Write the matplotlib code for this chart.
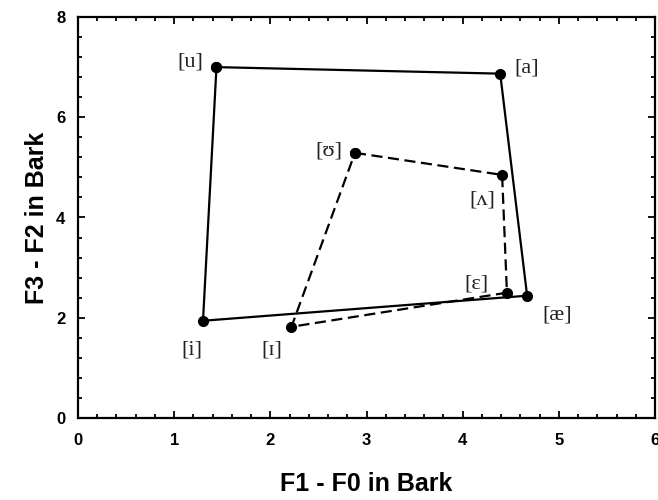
import matplotlib
matplotlib.use("Agg")
import matplotlib.pyplot as plt
from matplotlib.ticker import MultipleLocator

# Vowel formant positions (Bark)
outer_vowels = ["[u]", "[a]", "[æ]", "[i]"]
outer_f1 = [1.44, 4.39, 4.67, 1.30]
outer_f3f2 = [7.00, 6.87, 2.44, 1.94]

inner_vowels = ["[ʊ]", "[ʌ]", "[ɛ]", "[ɪ]"]
inner_f1 = [2.88, 4.41, 4.46, 2.22]
inner_f3f2 = [5.29, 4.85, 2.50, 1.82]

# label offsets in points
outer_offsets = [(-19, 4), (19, 4), (22, -14), (-8, -21)]
inner_offsets = [(-19, 1), (-14, -18), (-22, 6), (-14, -17)]

plt.rcParams["font.family"] = ["Liberation Sans", "DejaVu Sans"]
plt.rcParams["font.weight"] = "bold"

fig = plt.figure(figsize=(6.58, 5.0), dpi=100)
ax = fig.add_axes([0.1185, 0.164, 0.877, 0.802])

# closed polygons
ax.plot(outer_f1 + outer_f1[:1], outer_f3f2 + outer_f3f2[:1], color="black",
        lw=1.6, marker="o", ms=7, zorder=3)
ax.plot(inner_f1 + inner_f1[:1], inner_f3f2 + inner_f3f2[:1], color="black",
        lw=1.6, ls=(0, (5, 2.5)), marker="o", ms=7, zorder=3)

label_font = dict(family=["Liberation Serif", "DejaVu Serif"], fontsize=16,
                  fontweight="normal", color="#222222", ha="center", va="center")
for names, xs, ys, offs in [(outer_vowels, outer_f1, outer_f3f2, outer_offsets),
                            (inner_vowels, inner_f1, inner_f3f2, inner_offsets)]:
    for n, x, y, o in zip(names, xs, ys, offs):
        ax.annotate(n, (x, y), xytext=o, textcoords="offset points", **label_font)

ax.set_xlim(0, 6)
ax.set_ylim(0, 8)
ax.xaxis.set_major_locator(MultipleLocator(1))
ax.xaxis.set_minor_locator(MultipleLocator(0.2))
ax.yaxis.set_major_locator(MultipleLocator(2))
ax.yaxis.set_minor_locator(MultipleLocator(0.4))
ax.tick_params(which="both", direction="in", top=True, right=True, width=1.3)
ax.tick_params(which="major", length=5, labelsize=12)
ax.tick_params(axis="x", which="major", pad=11)
ax.tick_params(axis="y", which="major", pad=9)
ax.tick_params(which="minor", length=3)
for s in ax.spines.values():
    s.set_linewidth(1.6)

ax.set_xlabel("F1 - F0 in Bark", fontsize=18, fontweight="bold", labelpad=17)
ax.set_ylabel("F3 - F2 in Bark", fontsize=18, fontweight="bold", labelpad=5)

fig.savefig("out.png", dpi=100)
